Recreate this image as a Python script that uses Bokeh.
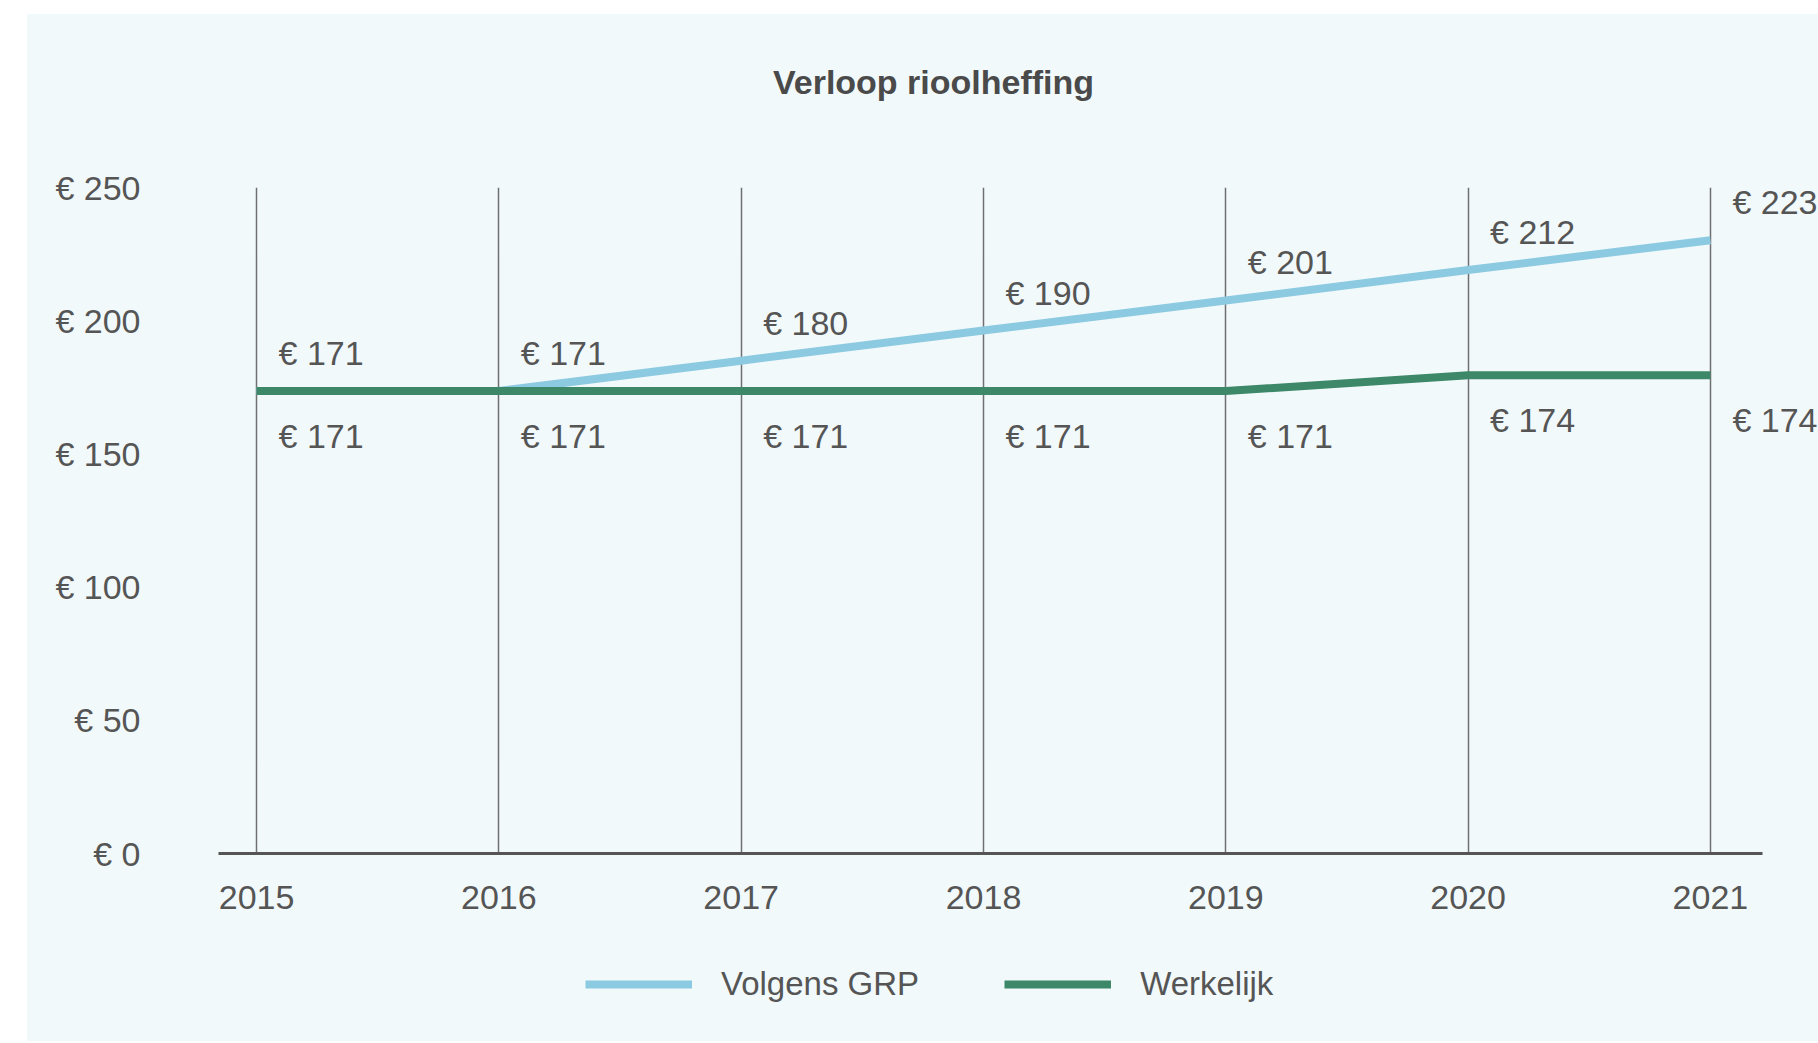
from bokeh.plotting import figure
from bokeh.layouts import column
from bokeh.models import (FixedTicker, PrintfTickFormatter, Legend, LegendItem, Label,
                          LabelSet, Range1d, ColumnDataSource)
from bokeh.core.properties import value
from bokeh.embed import file_html
from bokeh.resources import INLINE

# ---- data ----
years = [2015, 2016, 2017, 2018, 2019, 2020, 2021]
grp_line = [173.6, 173.6, 185.0, 196.3, 207.6, 219.0, 230.2]
werkelijk_line = [173.6, 173.6, 173.6, 173.6, 173.6, 179.5, 179.5]
grp_labels = [171, 171, 180, 190, 201, 212, 223]
werkelijk_labels = [171, 171, 171, 171, 171, 174, 174]
y_ticks = [0, 50, 100, 150, 200, 250]
series_names = ["Volgens GRP", "Werkelijk"]
title_text = "Verloop rioolheffing"

# ---- style ----
BG = "#f1f9fb"
TXT = "#555555"
FONT = "Liberation Sans"
BLUE = "#8ccae2"
GREEN = "#3d8868"
FS = "34px"
W = 1791


def blank(height):
    f = figure(width=W, height=height, x_range=Range1d(0, 1), y_range=Range1d(0, 1),
               x_axis_type=None, y_axis_type=None, output_backend="svg",
               toolbar_location=None, min_border=0)
    f.background_fill_color = BG
    f.border_fill_color = BG
    f.outline_line_color = None
    f.xgrid.grid_line_color = None
    f.ygrid.grid_line_color = None
    return f


# ---- title strip ----
pt = blank(126)
pt.add_layout(Label(x=715, y=59, x_units="screen", y_units="screen", text=title_text,
                    text_align="center", text_baseline="middle", text_font=FONT,
                    text_font_size=FS, text_font_style="bold", text_color="#4a4a4a"))

# ---- main chart ----
p = figure(width=W, height=795,
           x_range=Range1d(2014.843, 2021.446), y_range=Range1d(0, 250),
           output_backend="svg", toolbar_location=None,
           min_border_left=191, min_border_right=0,
           min_border_top=47, min_border_bottom=82)
p.background_fill_color = BG
p.border_fill_color = BG
p.outline_line_color = None

p.xaxis.ticker = FixedTicker(ticks=years)
p.xaxis.formatter = PrintfTickFormatter(format="%d")
p.xaxis.bounds = (2014.843, 2021.215)
p.xaxis.major_tick_line_color = None
p.xaxis.minor_tick_line_color = None
p.xaxis.axis_line_width = 3
p.xaxis.axis_line_color = "#555555"
p.xaxis.major_label_standoff = 26
p.xaxis.major_label_text_font = FONT
p.xaxis.major_label_text_font_size = FS
p.xaxis.major_label_text_color = TXT

p.yaxis.ticker = FixedTicker(ticks=y_ticks)
p.yaxis.formatter = PrintfTickFormatter(format="€ %d")
p.yaxis.axis_line_color = None
p.yaxis.major_tick_line_color = None
p.yaxis.minor_tick_line_color = None
p.yaxis.major_label_standoff = 72
p.yaxis.major_label_text_font = FONT
p.yaxis.major_label_text_font_size = FS
p.yaxis.major_label_text_color = TXT

p.xgrid.ticker = FixedTicker(ticks=years)
p.xgrid.grid_line_color = "#707070"
p.xgrid.grid_line_width = 1.5
p.ygrid.grid_line_color = None

p.line(years, grp_line, line_width=8, line_color=BLUE)
p.line(years, werkelijk_line, line_width=8, line_color=GREEN)

src_g = ColumnDataSource(dict(x=years, y=grp_line, t=["€ %d" % v for v in grp_labels]))
src_w = ColumnDataSource(dict(x=years, y=werkelijk_line, t=["€ %d" % v for v in werkelijk_labels]))
for src, dy in ((src_g, 38), (src_w, -45)):
    p.add_layout(LabelSet(source=src, x="x", y="y", text="t", x_offset=22, y_offset=dy,
                          text_align="left", text_baseline="middle",
                          text_font=value(FONT), text_font_size=value(FS),
                          text_color=TXT))

# ---- legend strip (lines hold the real series but fall outside this strip's view) ----
pl = blank(106)
lr1 = pl.line(x=years, y=grp_line, line_width=8, line_color=BLUE)
lr2 = pl.line(x=years, y=werkelijk_line, line_width=8, line_color=GREEN)
legend = Legend(items=[LegendItem(label=series_names[0], renderers=[lr1]),
                       LegendItem(label=series_names[1], renderers=[lr2])],
                orientation="horizontal", location=(367, 38),
                glyph_width=107, glyph_height=38, label_height=38,
                label_standoff=29, spacing=85,
                padding=0, margin=0, border_line_color=None, background_fill_alpha=0,
                label_text_font=FONT, label_text_font_size="33px", label_text_color=TXT)
pl.add_layout(legend)

layout = column(pt, p, pl, spacing=0, margin=(14, 0, 0, 27),
                styles={"background-color": BG})
open("out.html", "w").write(file_html(layout, INLINE))
